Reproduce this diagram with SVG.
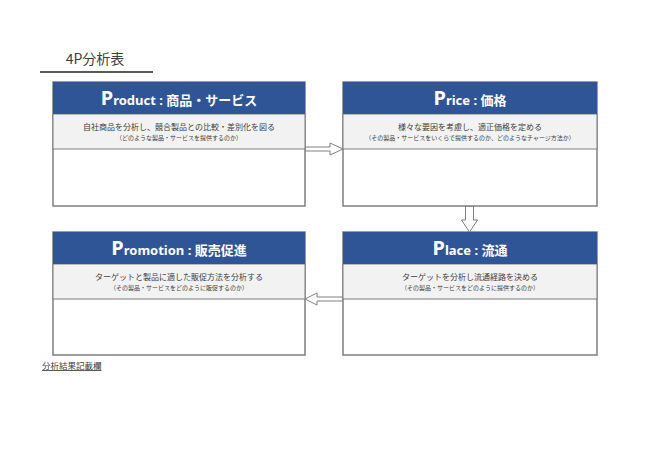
<svg xmlns="http://www.w3.org/2000/svg" width="650" height="459" viewBox="0 0 650 459">
<style>
.frame{fill:#fff;stroke:#7f7f7f;stroke-width:1.5}
.hdr{fill:#2f5597}
.band{fill:#f2f2f2;stroke:#7f7f7f;stroke-width:1}
.ht{font-family:"Noto Sans","Noto Sans CJK JP",sans-serif;fill:#fff;font-weight:bold;text-anchor:middle}
.big{font-size:20px}
.sm{font-size:13px}
.t1{font-family:"Noto Sans CJK JP",sans-serif;font-size:8px;fill:#404040;text-anchor:middle}
.t2{font-family:"Noto Sans CJK JP",sans-serif;font-size:6px;fill:#404040;text-anchor:middle}
.arr{fill:#fff;stroke:#7f7f7f;stroke-width:1;stroke-linejoin:miter}
</style>
<rect width="650" height="459" fill="#fff"/>
<g id="title">
<text x="95" y="64" font-family="Noto Sans CJK JP,sans-serif" font-size="14" fill="#404040" text-anchor="middle">4P分析表</text>
<line x1="40" y1="72" x2="153" y2="72" stroke="#595959" stroke-width="2"/>
</g>
<g id="connectors">
<polygon class="arr" points="305,147 330,147 330,143 343,149 330,155 330,151 305,151"/>
<polygon class="arr" points="465.5,206 473.5,206 473.5,220 477.5,220 469.5,232 461.5,220 465.5,220"/>
<polygon class="arr" points="343,297 317,297 317,293 305,299 317,305 317,301 343,301"/>
</g>
<g id="product">
<rect class="frame" x="53" y="82" width="252" height="124"/>
<rect class="band" x="53" y="114" width="252" height="35"/>
<rect class="hdr" x="53" y="82" width="252" height="32"/>
<text class="ht" x="179" y="105"><tspan class="big">P</tspan><tspan class="sm">roduct : 商品・サービス</tspan></text>
<text class="t1" x="179" y="130">自社商品を分析し、競合製品との比較・差別化を図る</text>
<text class="t2" x="179" y="140">（どのような製品・サービスを提供するのか）</text>
</g>
<g id="price">
<rect class="frame" x="343" y="82" width="254" height="124"/>
<rect class="band" x="343" y="114" width="254" height="35"/>
<rect class="hdr" x="343" y="82" width="254" height="32"/>
<text class="ht" x="470" y="105"><tspan class="big">P</tspan><tspan class="sm">rice : 価格</tspan></text>
<text class="t1" x="470" y="130">様々な要因を考慮し、適正価格を定める</text>
<text class="t2" x="470" y="140">（その製品・サービスをいくらで提供するのか、どのようなチャージ方法か）</text>
</g>
<g id="place">
<rect class="frame" x="343" y="232" width="254" height="123"/>
<rect class="band" x="343" y="264" width="254" height="35"/>
<rect class="hdr" x="343" y="232" width="254" height="32"/>
<text class="ht" x="470" y="255"><tspan class="big">P</tspan><tspan class="sm">lace : 流通</tspan></text>
<text class="t1" x="470" y="280">ターゲットを分析し流通経路を決める</text>
<text class="t2" x="470" y="290">（その製品・サービスをどのように提供するのか）</text>
</g>
<g id="promotion">
<rect class="frame" x="53" y="232" width="252" height="123"/>
<rect class="band" x="53" y="264" width="252" height="35"/>
<rect class="hdr" x="53" y="232" width="252" height="32"/>
<text class="ht" x="179" y="255"><tspan class="big">P</tspan><tspan class="sm">romotion : 販売促進</tspan></text>
<text class="t1" x="179" y="280">ターゲットと製品に適した販促方法を分析する</text>
<text class="t2" x="179" y="290">（その製品・サービスをどのように販促するのか）</text>
</g>
<g id="footer">
<text x="42" y="369" font-family="Noto Sans CJK JP,sans-serif" font-size="8.5" fill="#404040" text-decoration="underline">分析結果記載欄</text>
</g>
</svg>
